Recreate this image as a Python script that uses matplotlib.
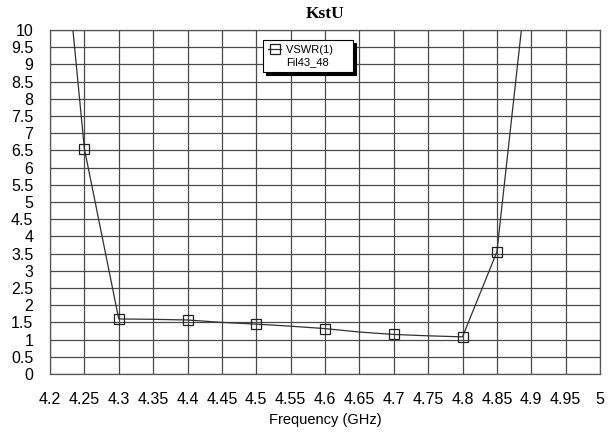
import matplotlib.pyplot as plt
from matplotlib.lines import Line2D

# VSWR(1) sweep, Fil43_48
freq = [4.2, 4.25, 4.3, 4.35, 4.4, 4.45, 4.5, 4.55, 4.6, 4.65, 4.7, 4.75, 4.8, 4.85, 4.9]
vswr = [16.9, 6.55, 1.6, 1.59, 1.57, 1.5, 1.45, 1.39, 1.32, 1.22, 1.15, 1.11, 1.08, 3.55, 12.6]
marker_idx = [1, 2, 4, 6, 8, 10, 12, 13]

xticks = [4.2, 4.25, 4.3, 4.35, 4.4, 4.45, 4.5, 4.55, 4.6, 4.65, 4.7, 4.75, 4.8, 4.85, 4.9, 4.95, 5]
yticks = [0, 0.5, 1, 1.5, 2, 2.5, 3, 3.5, 4, 4.5, 5, 5.5, 6, 6.5, 7, 7.5, 8, 8.5, 9, 9.5, 10]

plt.rcParams['font.family'] = ['Liberation Sans', 'DejaVu Sans']

fig = plt.figure(figsize=(6.12, 4.32), dpi=100)
ax = fig.add_axes([50/612, 1-374/432, 550/612, 344/432])

ln, = ax.plot(freq, vswr, color='#303030', lw=0.9, marker='s', markevery=marker_idx,
              markersize=7.5, markerfacecolor='none', markeredgecolor='#202020', markeredgewidth=0.9)

ax.set_xlim(4.2, 5)
ax.set_ylim(0, 10)
ax.set_xticks(xticks)
ax.set_xticklabels([('%g' % t) for t in xticks], fontsize=11.5)
ax.set_yticks(yticks)
ax.set_yticklabels([('%g' % t) for t in yticks], fontsize=11.5)
ax.tick_params(axis='y', length=0, pad=12)
ax.tick_params(axis='x', length=0, pad=13)
ax.grid(True, color='#4a4a4a', lw=0.9)
for s in ax.spines.values():
    s.set_color('#555555')
    s.set_linewidth(0.9)

ax.set_xlabel('Frequency (GHz)', fontsize=10.5, labelpad=4)
ax.set_title('KstU', fontsize=12.5, fontweight='bold', family='Liberation Serif', pad=9)

blank = Line2D([], [], color='none')
leg = ax.legend([ln, blank], ['VSWR(1)     ', 'Fil43_48'], loc='upper left',
                bbox_to_anchor=(213/550, 1-10/344), fontsize=8, frameon=True,
                fancybox=False, shadow={'color': 'black', 'alpha': 1}, handlelength=1.2,
                handletextpad=0.4, borderpad=0.45, labelspacing=0.2, borderaxespad=0)
leg.get_frame().set_edgecolor('black')
leg.get_frame().set_linewidth(0.8)
leg.get_frame().set_alpha(1)

fig.savefig('out.png', dpi=100)
